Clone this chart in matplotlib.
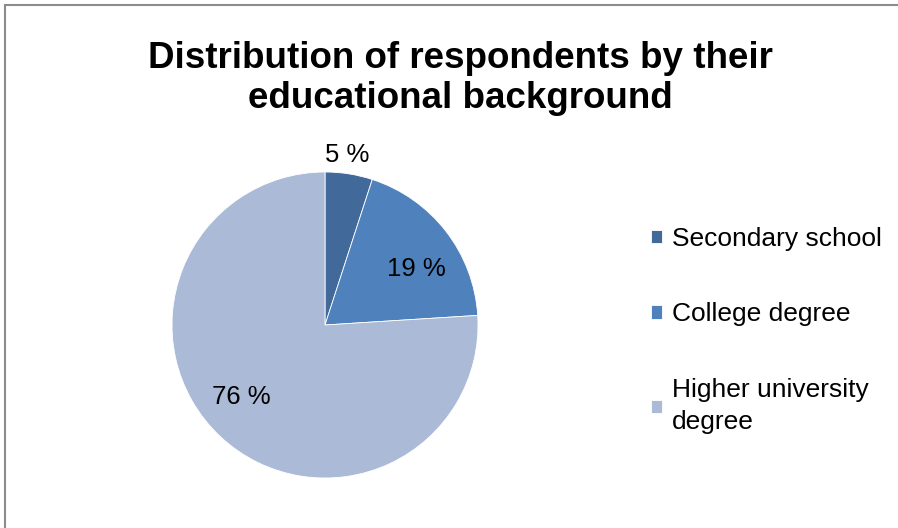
import matplotlib.pyplot as plt
import numpy as np
from matplotlib.patches import Rectangle

plt.rcParams['font.family'] = ['Liberation Sans', 'DejaVu Sans']

# data
categories = ['Secondary school', 'College degree', 'Higher university\ndegree']
shares = [5, 19, 76]
colors = ['#41699A', '#4F81BD', '#AABAD7']
# label placement (radius fraction, angle offset in degrees)
label_dist = [1.12, 0.70, 0.72]
label_shift = [1.5, -6, -6]

fig = plt.figure(figsize=(8.98, 5.28), dpi=100)

# chart frame (only left and top edges show)
fig.patches.append(Rectangle((5 / 898, -0.1), 1.2, (528 - 5) / 528 + 0.1,
                             transform=fig.transFigure, fill=False,
                             edgecolor='#8C8C8C', linewidth=1.5))

fig.text(460 / 898, 1 - 78.5 / 528, 'Distribution of respondents by their\neducational background',
         ha='center', va='center', fontsize=26.5, fontweight='bold', linespacing=1.17)

# pie axes, center (325, 325) px, radius 153 px
r = 153
ax = fig.add_axes([(325 - r) / 898, (528 - 325 - r) / 528, 2 * r / 898, 2 * r / 528])
wedges, _ = ax.pie(shares, colors=colors, startangle=90, counterclock=False,
                   wedgeprops=dict(edgecolor='white', linewidth=0.6))
ax.set_xlim(-1, 1)
ax.set_ylim(-1, 1)
ax.set_aspect('equal')
ax.axis('off')

for w, v, d, s in zip(wedges, shares, label_dist, label_shift):
    th = np.deg2rad((w.theta1 + w.theta2) / 2 + s)
    ax.text(d * np.cos(th), d * np.sin(th), f'{v} %', ha='center', va='center',
            fontsize=18.5, color='black')

leg = fig.legend(wedges, categories, loc='upper left', bbox_to_anchor=(651 / 898, 1 - 227 / 528),
                 frameon=False, fontsize=19, handlelength=0.4, handleheight=0.4,
                 handletextpad=0.38, labelspacing=1.95, borderpad=0, borderaxespad=0)
for t in leg.get_texts():
    t.set_linespacing(1.45)

plt.savefig('out.png', dpi=100)
